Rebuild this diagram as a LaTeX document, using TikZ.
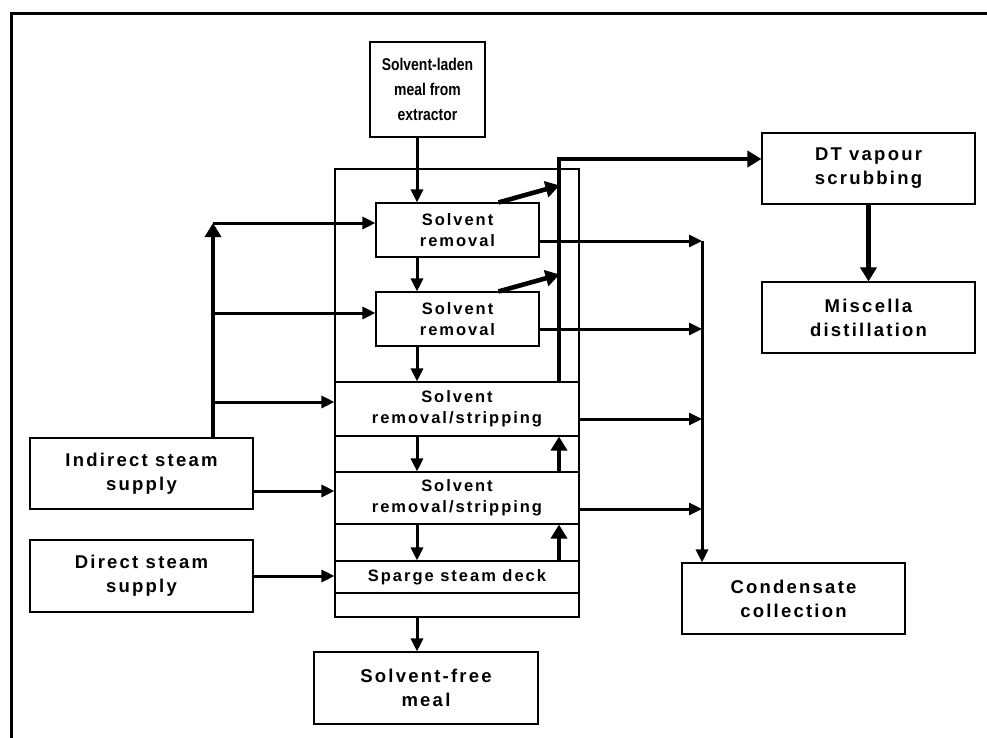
\documentclass[tikz,border=0pt]{standalone}
\usepackage{fontspec}
\setmainfont{Liberation Sans}
\newfontfamily\boxfont[LetterSpace=12]{Liberation Sans Bold}
\newfontfamily\narrowfont[FakeStretch=0.82]{Liberation Sans Bold}
\usetikzlibrary{arrows.meta, calc}

\begin{document}
\begin{tikzpicture}[
  x=1pt, y=-1pt,
  box/.style    = {draw, line width=1.1pt, align=center, inner sep=0pt},
  stage/.style  = {box, font=\boxfont\fontsize{16.5}{21}\selectfont},
  outer/.style  = {box, font=\boxfont\fontsize{18.5}{24}\selectfont,
                   minimum width=223, minimum height=71},
  flow/.style   = {-{Triangle[length=13pt, width=12pt]}, line width=3pt},
  heavy/.style  = {-{Triangle[length=14pt, width=16pt]}, line width=4.6pt},
]
\useasboundingbox (0,0) rectangle (987,738);

% ---- page frame (top and left edges only)
\draw[line width=3pt] (987,14) -- (11,14) -- (11,738);

% ---- the desolventiser-toaster and its decks
\node[box, minimum width=244, minimum height=448] (dtbody) at (457,393) {};
\node[box, font=\narrowfont\fontsize{17}{25}\selectfont,
      minimum width=115, minimum height=95] (laden) at (427.5,89.5)
      {Solvent-laden\\meal from\\extractor};
\node[stage, minimum width=163, minimum height=54] (rem1) at (457.5,230)
      {Solvent\\removal};
\node[stage, minimum width=163, minimum height=54] (rem2) at (457.5,319)
      {Solvent\\removal};
\node[stage, minimum width=244, minimum height=54] (strip1) at (457,409)
      {Solvent\\removal/stripping};
\node[stage, minimum width=244, minimum height=52] (strip2) at (457,498)
      {Solvent\\removal/stripping};
\node[stage, minimum width=244, minimum height=32] (sparge) at (457,577)
      {Sparge steam deck};
\node[outer, minimum width=224, minimum height=72] (freemeal) at (426,688)
      {Solvent-free\\meal};

% ---- steam supplies
\node[outer] (indirect) at (141.5,473.5) {Indirect steam\\supply};
\node[outer, minimum height=72] (direct) at (141.5,576) {Direct steam\\supply};

% ---- vapour and condensate side
\node[outer, minimum width=213] (scrub) at (868.5,168.5) {DT vapour\\scrubbing};
\node[outer, minimum width=213] (miscella) at (868.5,317.5)
      {Miscella\\distillation};
\node[outer] (condensate) at (793.5,598.5) {Condensate\\collection};

% meal path down through the decks
\coordinate (down) at (417,0);
\draw[flow] (laden.south -| down) -- (rem1.north -| down);
\draw[flow] (rem1.south -| down) -- (rem2.north -| down);
\draw[flow] (rem2.south -| down) -- (strip1.north -| down);
\draw[flow] (strip1.south -| down) -- (strip2.north -| down);
\draw[flow] (strip2.south -| down) -- (sparge.north -| down);
\draw[flow] (dtbody.south -| down) -- (freemeal.north -| down);

% indirect steam header
\coordinate (s1) at (213,223);
\coordinate (s2) at (213,313);
\coordinate (s3) at (213,402);
\coordinate (s4) at (253,491);
\draw[heavy] (indirect.north -| s1) -- (s1);
\draw[flow] (s1) -- (rem1.west |- s1);
\draw[flow] (s2) -- (rem2.west |- s2);
\draw[flow] (s3) -- (dtbody.west |- s3);
\draw[flow] (s4) -- (dtbody.west |- s4);
\draw[flow] (direct.east) -- (dtbody.west |- direct.east);

% vapour riser
\coordinate (riser) at (559,159);
\draw[heavy] (sparge.north -| riser) -- (strip2.south -| riser);
\draw[heavy] (strip2.north -| riser) -- (strip1.south -| riser);
\draw[heavy] (strip1.north -| riser) -- (riser) -- (scrub.west |- riser);
\draw[heavy] ([xshift=-41pt]rem1.north east) -- ([xshift=20pt,yshift=17pt]rem1.north east);
\draw[heavy] ([xshift=-41pt]rem2.north east) -- ([xshift=20pt,yshift=17pt]rem2.north east);
\draw[heavy, line width=5.5pt] (scrub) -- (miscella);

% condensate collector
\coordinate (c1) at (702,241);
\coordinate (c2) at (702,329);
\coordinate (c3) at (702,419);
\coordinate (c4) at (702,509);
\draw[flow] (rem1.east |- c1) -- (c1);
\draw[flow] (rem2.east |- c2) -- (c2);
\draw[flow] (dtbody.east |- c3) -- (c3);
\draw[flow] (dtbody.east |- c4) -- (c4);
\draw[flow] (c1) -- (condensate.north -| c1);

\end{tikzpicture}
\end{document}
